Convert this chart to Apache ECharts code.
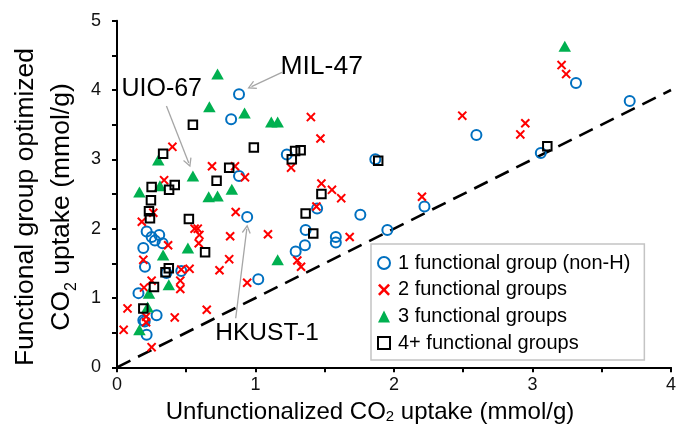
<!DOCTYPE html>
<html><head><meta charset="utf-8">
<script src="https://cdn.jsdelivr.net/npm/echarts@6/dist/echarts.min.js"></script>
<style>html,body{margin:0;padding:0;background:#fff}#c{width:679px;height:431px}</style>
</head><body><div id="c"></div>
<script>
// ---------- data ----------
const seriesNames = ['1 functional group (non-H)', '2 functional groups', '3 functional groups', '4+ functional groups'];

const group1 = [[0.881,3.94],[0.824,3.58],[1.226,3.07],[0.881,2.76],[0.94,2.17],
  [0.214,1.96],[0.25,1.88],[0.274,1.83],[0.305,1.91],[0.329,1.79],[0.19,1.72],[0.202,1.45],
  [0.464,1.39],[0.357,1.36],[0.155,1.07],[0.286,0.75],[0.19,0.68],[0.2,0.66],[0.214,0.47],
  [1.02,1.27],[1.29,1.67],[1.357,1.76],[1.362,1.98],[1.58,1.88],[1.58,1.80],[1.445,2.29],
  [1.757,2.20],[1.952,1.98],[2.22,2.32],[1.865,3.0],[2.595,3.35],[3.314,4.10],[3.702,3.84],[3.06,3.09]];

const group2 = [[0.4,3.18],[0.686,2.90],[0.852,2.90],[0.924,2.74],[0.34,2.70],[1.257,2.88],
  [0.179,2.10],[0.262,2.23],[0.56,2.0],[0.583,2.0],[0.595,1.91],[0.59,1.79],[0.369,1.76],
  [0.817,1.89],[0.857,2.24],[1.09,1.92],[0.19,1.55],[0.81,1.56],[0.74,1.40],[0.524,1.42],
  [0.464,1.41],[0.457,1.25],[0.457,1.13],[0.25,1.25],[0.195,1.15],[0.076,0.85],[0.648,0.83],
  [0.417,0.72],[0.21,0.73],[0.21,0.65],[0.048,0.54],[0.25,0.29],[0.94,1.22],
  [1.40,3.61],[1.469,3.30],[1.476,2.65],[1.552,2.56],[1.619,2.44],[1.44,2.32],[1.68,1.88],
  [1.302,1.54],[1.329,1.45],[2.202,2.46],[2.493,3.63],[2.948,3.52],[2.912,3.36],[3.21,4.36],[3.243,4.23]];

const group3 = [[0.726,4.23],[0.667,3.76],[0.921,3.67],[1.114,3.54],[1.16,3.54],[0.298,2.99],
  [0.548,2.76],[0.162,2.53],[0.31,2.62],[0.662,2.46],[0.726,2.47],[0.829,2.57],[0.512,1.72],
  [0.333,1.62],[0.374,1.19],[0.231,1.07],[0.221,0.87],[0.162,0.54],[1.16,1.55],[3.233,4.63]];

const group4 = [[0.548,3.50],[0.988,3.17],[0.333,3.08],[0.81,2.88],[0.719,2.69],[0.25,2.60],
  [0.376,2.56],[0.417,2.63],[1.262,3.0],[1.286,3.12],[1.326,3.13],[0.245,2.41],[0.231,2.25],
  [0.238,2.15],[0.519,2.14],[0.636,1.66],[0.374,1.43],[0.35,1.37],[0.267,1.16],[0.19,0.85],
  [1.886,2.98],[1.476,2.5],[1.362,2.22],[1.417,1.93],[3.107,3.19]];

const identityLine = [[0,0],[4,4]];
const xTickLabels = [0,1,2,3,4];
const yTickLabels = [0,1,2,3,4,5];
const annotationNames = ['MIL-47','UIO-67','HKUST-1'];

// ---------- layout (annotation anchors in data space) ----------
const annotationLayout = [
  {at:[1.18,4.333], from:[1.191,4.254], to:[0.971,4.050], size:26.5},
  {at:[0.032,4.009], from:[0.357,3.77], to:[0.518,2.948], size:25},
  {at:[0.71,0.488], from:[0.857,0.707], to:[0.937,1.996], size:24.5}
];

const FONT = '"Liberation Sans", Arial, sans-serif';
const crossPath = 'path://M0,1.5 L1.5,0 L5,3.5 L8.5,0 L10,1.5 L6.5,5 L10,8.5 L8.5,10 L5,6.5 L1.5,10 L0,8.5 L3.5,5 Z';
const chevron = 'path://M5,0 L10,8.6 L8.8,9.4 L5,2.8 L1.2,9.4 L0,8.6 Z';

const chart = echarts.init(document.getElementById('c'), null, {renderer:'canvas'});

const tickFmt = (list) => (v) => list.indexOf(Math.round(v*1000)/1000) >= 0 ? String(Math.round(v)) : '';

const option = {
  animation: false,
  backgroundColor: '#fff',
  grid: {left: 113.3, right: 5.7, top: 20.7, bottom: 63.7, containLabel: false},
  xAxis: {
    type: 'value', min: 0, max: 4, interval: 0.5,
    name: 'Unfunctionalized CO{sub|2} uptake (mmol/g)',
    nameLocation: 'middle', nameGap: 33,
    nameTextStyle: {fontFamily: FONT, fontSize: 24, color: '#000', padding: [0, 48, 0, 0],
      rich: {sub: {fontFamily: FONT, fontSize: 15, lineHeight: 12, verticalAlign: 'bottom', color: '#000'}}},
    axisLine: {show: true, onZero: false, lineStyle: {color: '#000', width: 2}},
    axisTick: {show: true, inside: false, length: 5, lineStyle: {color: '#000', width: 2}},
    axisLabel: {fontFamily: FONT, fontSize: 18, color: '#111', margin: 9, formatter: tickFmt(xTickLabels)},
    splitLine: {show: false}
  },
  yAxis: {
    type: 'value', min: 0, max: 5, interval: 0.5,
    name: 'Functional group optimized\nCO{sub|2} uptake (mmol/g)',
    nameLocation: 'middle', nameGap: 37, nameRotate: 90,
    nameTextStyle: {fontFamily: FONT, fontSize: 26.5, lineHeight: 36, color: '#000', align: 'center', padding: [0, 26, 0, 0],
      rich: {sub: {fontFamily: FONT, fontSize: 16, lineHeight: 14, verticalAlign: 'bottom', color: '#000'}}},
    axisLine: {show: true, onZero: false, lineStyle: {color: '#000', width: 2}},
    axisTick: {show: true, inside: false, length: 5, lineStyle: {color: '#000', width: 2}},
    axisLabel: {fontFamily: FONT, fontSize: 18, color: '#111', margin: 16, formatter: tickFmt(yTickLabels)},
    splitLine: {show: false}
  },
  legend: {
    data: seriesNames, orient: 'vertical', left: 371, top: 244,
    itemWidth: 12, itemHeight: 12, itemGap: 6.7,
    padding: [9, 14, 7, 6],
    backgroundColor: '#fff', borderColor: '#c4c4c4', borderWidth: 1.5, borderRadius: 0,
    textStyle: {fontFamily: FONT, fontSize: 20, lineHeight: 20, color: '#000', padding: [0, 0, 0, 3]},
    selectedMode: false
  },
  series: [
    {type: 'line', data: identityLine, symbol: 'none', silent: true, z: 1,
     lineStyle: {color: '#000', width: 2.6, type: [15, 8.5]}},
    {name: seriesNames[0], type: 'scatter', data: group1, symbol: 'circle', symbolSize: 10, z: 3,
     itemStyle: {color: 'rgba(255,255,255,0)', borderColor: '#0070C0', borderWidth: 2, opacity: 1}},
    {name: seriesNames[1], type: 'scatter', data: group2, symbol: crossPath, symbolSize: 9.5, z: 3,
     itemStyle: {color: '#FF0000', opacity: 1}},
    {name: seriesNames[2], type: 'scatter', data: group3, symbol: 'triangle', symbolSize: [12.5, 11], z: 3,
     itemStyle: {color: '#00B050', opacity: 1}},
    {name: seriesNames[3], type: 'scatter', data: group4, symbol: 'rect', symbolSize: 8.5, z: 3,
     itemStyle: {color: 'rgba(255,255,255,0)', borderColor: '#000', borderWidth: 2, opacity: 1}},
    {name: 'annotations', type: 'scatter', symbolSize: 0, silent: true, z: 5,
     itemStyle: {opacity: 1},
     data: annotationNames.map((n, i) => ({value: annotationLayout[i].at, name: n,
       label: {show: true, position: 'right', distance: 0, formatter: n, fontFamily: FONT,
               fontSize: annotationLayout[i].size, color: '#000', opacity: 1}})),
     markLine: {silent: true, animation: false, symbol: ['none', chevron], symbolSize: [9, 9],
       label: {show: false}, lineStyle: {color: '#a6a6a6', width: 1.3, type: 'solid', opacity: 1},
       data: annotationLayout.map(a => [{coord: a.from}, {coord: a.to}])}}
  ]
};
chart.setOption(option);
</script>
</body></html>
